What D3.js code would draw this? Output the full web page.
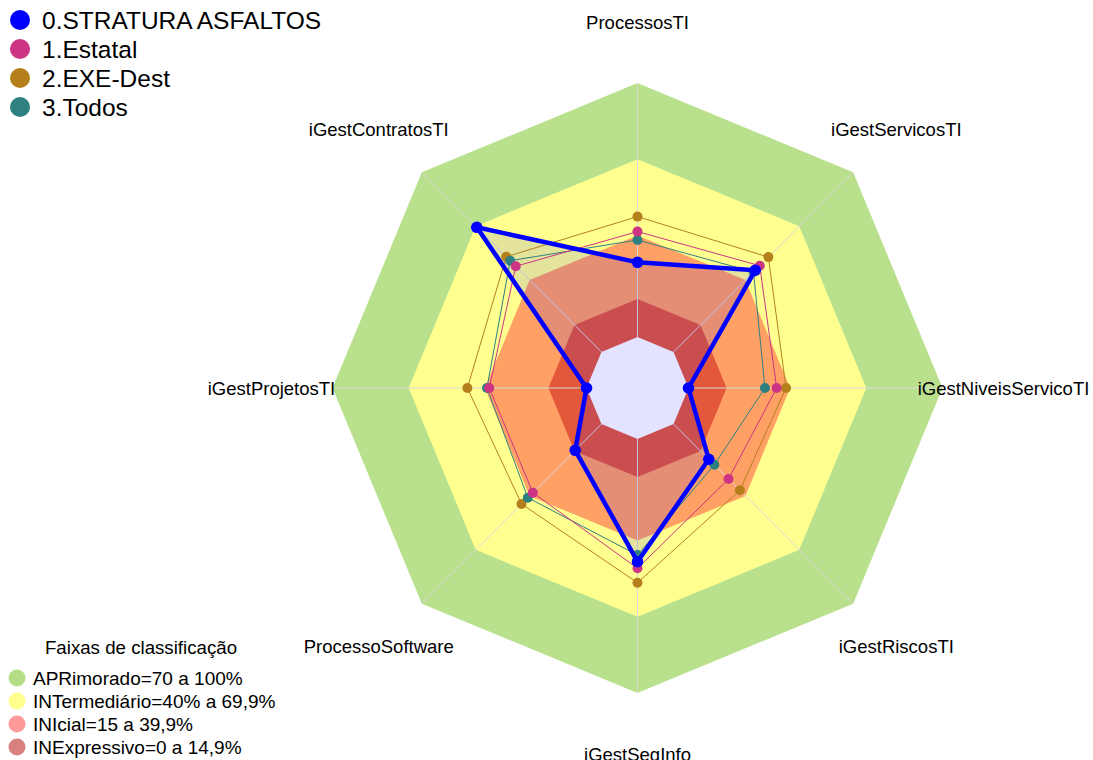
<!DOCTYPE html>
<html>
<head>
<meta charset="utf-8">
<script src="https://cdn.jsdelivr.net/npm/d3@7"></script>
<style>
  body { margin: 0; background: #fff; }
  svg { font-family: "Liberation Sans", Arial, sans-serif; }
</style>
</head>
<body>
<svg id="chart" width="1093" height="760"></svg>
<script>
// axes, clockwise from the top
const categories = ["ProcessosTI", "iGestServicosTI", "iGestNiveisServicoTI", "iGestRiscosTI",
  "iGestSegInfo", "ProcessoSoftware", "iGestProjetosTI", "iGestContratosTI"];

// series values (%)
const seriesNames = ["0.STRATURA ASFALTOS", "1.Estatal", "2.EXE-Dest", "3.Todos"];
const stratura = [29.4, 45.5, 0, 19.6, 48.3, 14.6, 0, 69.4];
const estatal  = [41.5, 48.0, 34.7, 30.6, 50.9, 38.2, 38.3, 47.7];
const exeDest  = [47.4, 52.8, 38.4, 36.9, 56.6, 44.5, 46.9, 53.0];
const todos    = [38.2, 44.5, 30.1, 22.7, 45.7, 41.0, 39.2, 50.8];

// classification bands (upper limit of each band)
const bandNames = ["APRimorado=70 a 100%", "INTermediário=40% a 69,9%", "INIcial=15 a 39,9%", "INExpressivo=0 a 14,9%"];
const bandTops = [100, 70, 40, 15];

const seriesColors = ["#0000ff", "#cd3483", "#b5801c", "#2f8080"];
const bandColors = ["#b9e18d", "#ffff90", "#ffa064", "#e3573a"];
const bandLegendColors = ["#b5dd87", "#ffff90", "#ff9a9a", "#d98080"];

const svg = d3.select("#chart");
const cx = 637.5, cy = 388;
const g = svg.append("g").attr("transform", `translate(${cx},${cy})`);

// radial scale: value 0 sits on the edge of the centre hole
const r = d3.scaleLinear().domain([0, 100]).range([51, 305]);
const angle = d3.scalePoint().domain(categories).range([0, 2 * Math.PI * 7 / 8]);

const ring = v => d3.lineRadial()
  .angle(c => angle(c))
  .radius(() => r(v))
  .curve(d3.curveLinearClosed)(categories);

// bands, drawn from the outside in
bandTops.forEach((t, i) => {
  g.append("path").attr("d", ring(t)).attr("fill", bandColors[i]);
});
g.append("path").attr("d", ring(0)).attr("fill", "#ffffff");

// spokes
categories.forEach(c => {
  const a = angle(c);
  g.append("line")
    .attr("x1", r(0) * Math.sin(a)).attr("y1", -r(0) * Math.cos(a))
    .attr("x2", r(100) * Math.sin(a)).attr("y2", -r(100) * Math.cos(a))
    .attr("stroke", "#d9d9d9").attr("stroke-width", 1);
});

const data = [stratura, estatal, exeDest, todos];
const radar = d3.lineRadial()
  .angle((d, i) => angle(categories[i]))
  .radius(d => r(d))
  .curve(d3.curveLinearClosed);

// the highlighted company gets a translucent fill
g.append("path").attr("d", radar(stratura))
  .attr("fill", "rgba(0,0,255,0.11)").attr("stroke", "none");

// comparison series first, highlighted one on top
[2, 3, 1, 0].forEach(k => {
  const vals = data[k];
  const wide = k === 0;
  const sg = g.append("g");
  sg.append("path").attr("d", radar(vals))
    .attr("fill", "none")
    .attr("stroke", seriesColors[k])
    .attr("stroke-width", wide ? 4.5 : 1)
    .attr("stroke-linejoin", "round");
  sg.selectAll("circle").data(vals).join("circle")
    .attr("cx", (d, i) => r(d) * Math.sin(angle(categories[i])))
    .attr("cy", (d, i) => -r(d) * Math.cos(angle(categories[i])))
    .attr("r", wide ? 5.8 : 5)
    .attr("fill", seriesColors[k]);
});

// axis labels
g.selectAll("text.axis-label").data(categories).join("text")
  .attr("class", "axis-label")
  .attr("x", c => 366 * Math.sin(angle(c)))
  .attr("y", c => -366 * Math.cos(angle(c)))
  .attr("text-anchor", "middle")
  .attr("dominant-baseline", "central")
  .attr("font-size", 18.5)
  .attr("fill", "#000")
  .text(c => c);

// series legend (top left)
const leg = svg.append("g");
seriesNames.forEach((n, i) => {
  const y = 20 + i * 29;
  leg.append("circle").attr("cx", 20).attr("cy", y).attr("r", 10).attr("fill", seriesColors[i]);
  leg.append("text").attr("x", 42).attr("y", y).attr("dominant-baseline", "central")
    .attr("font-size", 24.5).attr("fill", "#000").text(n);
});

// band legend (bottom left)
const bleg = svg.append("g");
bleg.append("text").attr("x", 141).attr("y", 647).attr("text-anchor", "middle")
  .attr("dominant-baseline", "central").attr("font-size", 18.7).attr("fill", "#000")
  .text("Faixas de classificação");
bandNames.forEach((n, i) => {
  const y = 678 + i * 23;
  bleg.append("circle").attr("cx", 17).attr("cy", y).attr("r", 8.5).attr("fill", bandLegendColors[i]);
  bleg.append("text").attr("x", 33).attr("y", y).attr("dominant-baseline", "central")
    .attr("font-size", 19).attr("fill", "#000").text(n);
});
</script>
</body>
</html>
